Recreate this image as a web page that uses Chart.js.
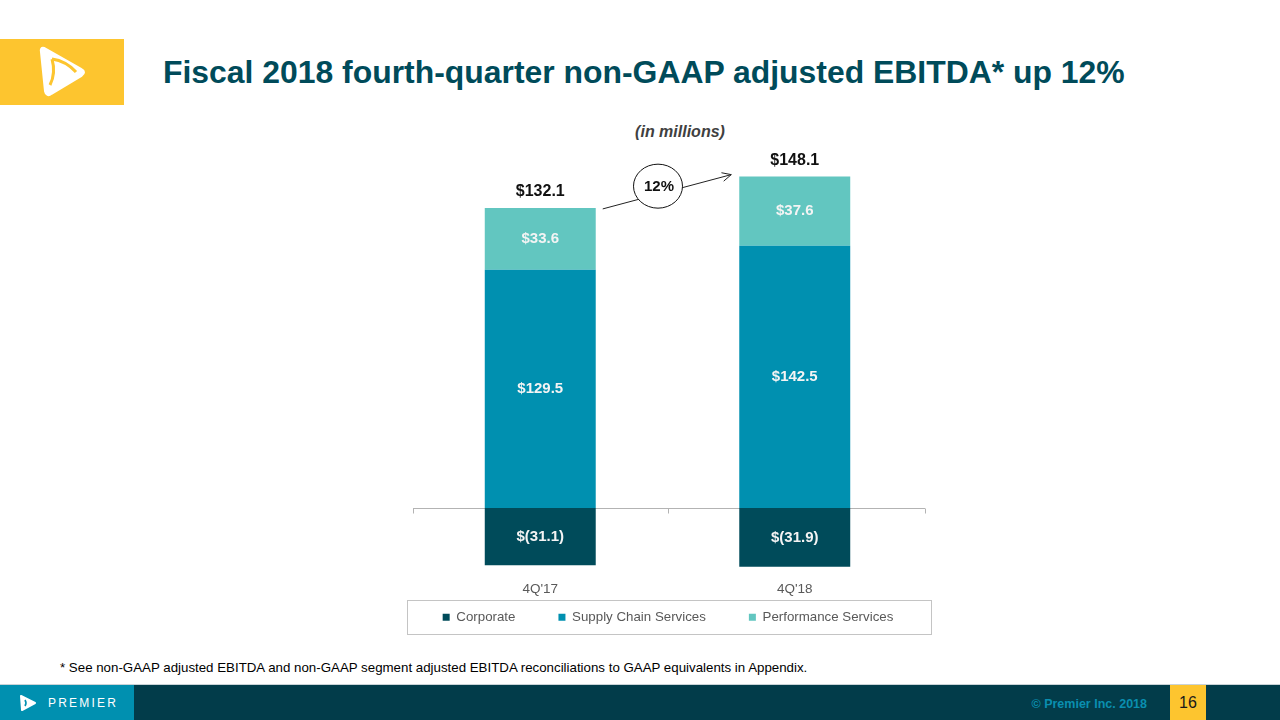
<!DOCTYPE html>
<html>
<head>
<meta charset="utf-8">
<script src="https://cdn.jsdelivr.net/npm/chart.js@4.4.1/dist/chart.umd.min.js"></script>
<style>
  body { margin: 0; width: 1280px; height: 720px; overflow: hidden; background: #fff; font-family: "Liberation Sans", Arial, sans-serif; position: relative; }
  .abs { position: absolute; }
  #logo { left: 0; top: 39px; width: 124px; height: 66px; background: #fdc52f; }
  #title { left: 163px; top: 53px; line-height: 38px; font-size: 31.9px; font-weight: bold; color: #004b5a; white-space: nowrap; }
  #unit { left: 580px; width: 200px; top: 122px; line-height: 20px; text-align: center; font-size: 16px; font-weight: bold; font-style: italic; color: #404040; }
  #wrap { left: 358px; top: 140px; width: 620px; height: 497px; }
  #note { left: 60px; top: 660px; line-height: 16px; font-size: 13.3px; color: #000; white-space: nowrap; }
  #foot { left: 0; top: 684px; width: 1280px; height: 36px; background: #023c4a; border-top: 1px solid #c9d3d7; box-sizing: border-box; }
  #footBlue { left: 0; top: 0; width: 134px; height: 35px; background: #0090b0; }
  #brand { left: 48px; top: 10px; font-size: 12px; letter-spacing: 2.2px; color: #fff; line-height: 16px; }
  #copy { right: 133px; top: 11px; font-size: 12.5px; font-weight: bold; color: #0a8fb0; line-height: 16px; }
  #page { left: 1170px; top: 0; width: 36px; height: 35px; background: #fdc52f; color: #1a1a1a; font-size: 16px; line-height: 35px; text-align: center; }
</style>
</head>
<body>
<div id="logo" class="abs">
  <svg width="124" height="66" viewBox="0 0 124 66">
    <path d="M44 10 Q41 9 42 13 L46 52 Q47 57 51 54 L81 36 Q85 33 81 31 Z" fill="#fff" stroke="#fff" stroke-width="4" stroke-linejoin="round"/>
    <path d="M52 20 Q56 34 50 46 M52 20 Q66 22 76 33" fill="none" stroke="#fdc52f" stroke-width="3"/>
  </svg>
</div>
<div id="title" class="abs">Fiscal 2018 fourth-quarter non-GAAP adjusted EBITDA* up 12%</div>
<div id="unit" class="abs">(in millions)</div>
<div id="wrap" class="abs"><canvas id="chart"></canvas></div>
<div id="note" class="abs">* See non-GAAP adjusted EBITDA and non-GAAP segment adjusted EBITDA reconciliations to GAAP equivalents in Appendix.</div>
<div id="foot" class="abs">
  <div id="footBlue" class="abs">
    <svg class="abs" style="left:18px;top:9px" width="20" height="18" viewBox="0 0 20 18">
      <path d="M3 2 L17 9 L4 16 Z" fill="#fff" stroke="#fff" stroke-width="2" stroke-linejoin="round"/>
      <path d="M7 6 Q9 9 7 12" fill="none" stroke="#0090b0" stroke-width="1.6"/>
    </svg>
    <div id="brand" class="abs">PREMIER</div>
  </div>
  <div id="copy" class="abs">© Premier Inc. 2018</div>
  <div id="page" class="abs">16</div>
</div>
<script>
const categories = ["4Q'17", "4Q'18"];
const corporate = [-31.1, -31.9];
const supplyChain = [129.5, 142.5];
const performance = [33.6, 37.6];
const totals = [132.1, 148.1];
const growth = '12%';

Chart.defaults.font.family = '"Liberation Sans", Arial, sans-serif';

function money(v) {
    return v < 0 ? '$(' + (-v).toFixed(1) + ')' : '$' + v.toFixed(1);
}

// zero line with small ticks at category edges, under the bars
const zeroLine = {
    id: 'zeroLine',
    beforeDatasetsDraw(chart) {
        const { ctx, scales: { x, y } } = chart;
        const y0 = Math.round(y.getPixelForValue(0)) + 0.5;
        const half = (x.getPixelForValue(1) - x.getPixelForValue(0)) / 2;
        const edges = [x.getPixelForValue(0) - half, x.getPixelForValue(0) + half, x.getPixelForValue(1) + half];
        ctx.save();
        ctx.strokeStyle = '#b3b3b3';
        ctx.lineWidth = 1;
        ctx.beginPath();
        ctx.moveTo(edges[0], y0);
        ctx.lineTo(edges[2] + 3, y0);
        edges.forEach((e, i) => {
            const ex = Math.round(e + (i === 2 ? 3 : 0)) + 0.5;
            ctx.moveTo(ex, y0);
            ctx.lineTo(ex, y0 + 5);
        });
        ctx.stroke();
        ctx.restore();
    }
};

// segment values, totals and the growth arrow
const barLabels = {
    id: 'barLabels',
    afterDatasetsDraw(chart) {
        const { ctx } = chart;
        ctx.save();
        ctx.textAlign = 'center';
        ctx.textBaseline = 'middle';
        ctx.font = 'bold 15px "Liberation Sans", Arial, sans-serif';
        ctx.fillStyle = '#f4f4f4';
        chart.data.datasets.forEach((ds, i) => {
            chart.getDatasetMeta(i).data.forEach((bar, j) => {
                ctx.fillText(money(ds.data[j]), bar.x, (bar.y + bar.base) / 2);
            });
        });

        const tops = chart.getDatasetMeta(2).data;
        ctx.font = 'bold 16px "Liberation Sans", Arial, sans-serif';
        ctx.fillStyle = '#111';
        tops.forEach((bar, j) => {
            ctx.fillText(money(totals[j]), bar.x, bar.y - 16.5);
        });

        // arrow between the two bars
        const a = tops[0], b = tops[1];
        const x1 = a.x + a.width / 2 + 7, y1 = a.y + 1;
        const x2 = b.x - b.width / 2 - 8, y2 = b.y - 2;
        ctx.strokeStyle = '#222';
        ctx.lineWidth = 1;
        ctx.beginPath();
        ctx.moveTo(x1, y1);
        ctx.lineTo(x2, y2);
        const ang = Math.atan2(y2 - y1, x2 - x1);
        ctx.moveTo(x2 - 10 * Math.cos(ang - 0.45), y2 - 10 * Math.sin(ang - 0.45));
        ctx.lineTo(x2, y2);
        ctx.lineTo(x2 - 10 * Math.cos(ang + 0.45), y2 - 10 * Math.sin(ang + 0.45));
        ctx.stroke();

        const cx = x1 + (x2 - x1) * 0.43, cy = y1 + (y2 - y1) * 0.43 - 8;
        ctx.beginPath();
        ctx.ellipse(cx, cy, 24.5, 22, 0, 0, Math.PI * 2);
        ctx.fillStyle = '#fff';
        ctx.fill();
        ctx.strokeStyle = '#111';
        ctx.stroke();
        ctx.fillStyle = '#111';
        ctx.font = 'bold 15px "Liberation Sans", Arial, sans-serif';
        ctx.fillText(growth, cx + 1, cy + 1);
        ctx.restore();
    },
    afterDraw(chart) {
        // frame around legend
        const boxes = chart.legend.legendHitBoxes;
        if (!boxes || !boxes.length) return;
        const first = boxes[0], last = boxes[boxes.length - 1];
        const mid = first.top + first.height / 2;
        const left = Math.round(first.left - 36) + 0.5;
        const right = Math.round(last.left + last.width + 38) + 0.5;
        const { ctx } = chart;
        ctx.save();
        ctx.strokeStyle = '#c4c4c4';
        ctx.lineWidth = 1;
        ctx.strokeRect(left, Math.round(mid - 17) + 0.5, right - left, 34);
        ctx.restore();
    }
};

new Chart(document.getElementById('chart'), {
    type: 'bar',
    data: {
        labels: categories,
        datasets: [
            { label: 'Corporate', data: corporate, backgroundColor: '#004b5a', borderWidth: 0, clip: false },
            { label: 'Supply Chain Services', data: supplyChain, backgroundColor: '#0090b0', borderWidth: 0, clip: false },
            { label: 'Performance Services', data: performance, backgroundColor: '#62c6c0', borderWidth: 0, clip: false }
        ]
    },
    options: {
        responsive: true,
        maintainAspectRatio: false,
        animation: false,
        layout: { padding: { bottom: 3 } },
        categoryPercentage: 1,
        barPercentage: 0.436,
        plugins: {
            tooltip: { enabled: false },
            legend: {
                position: 'bottom',
                labels: { boxWidth: 7, boxHeight: 7, padding: 43, color: '#595959', font: { size: 13.3 } }
            }
        },
        scales: {
            x: {
                stacked: true,
                grid: { display: false, drawTicks: false },
                border: { display: false },
                // mirrored so the labels are not clipped to the zero-height axis box
                ticks: { color: '#595959', font: { size: 13.5 }, padding: -30, mirror: true },
                afterFit(s) { s.height = 0; }
            },
            y: {
                stacked: true,
                min: -32.4,
                max: 200,
                grid: { display: false },
                border: { display: false },
                ticks: { display: false },
                afterFit(s) { s.width = 55; }
            },
            yRight: {
                type: 'linear',
                position: 'right',
                grid: { display: false },
                border: { display: false },
                ticks: { display: false },
                afterFit(s) { s.width = 56; }
            }
        }
    },
    plugins: [zeroLine, barLabels]
});
</script>
</body>
</html>
